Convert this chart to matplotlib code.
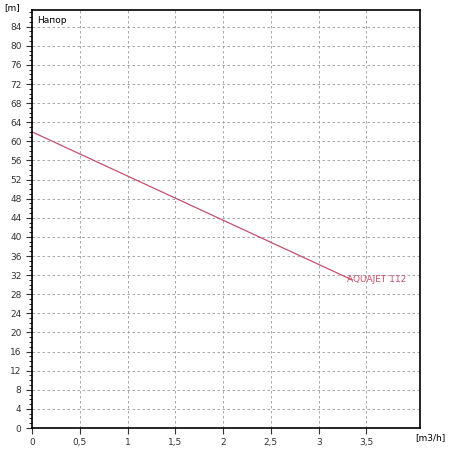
import matplotlib
matplotlib.use("Agg")
import matplotlib.pyplot as plt
from matplotlib.ticker import MultipleLocator

flow = [0, 3.35]
head = [62, 31]
label = "AQUAJET 112"
xticks = [0, 0.5, 1, 1.5, 2, 2.5, 3, 3.5]
xlabels = ["0", "0,5", "1", "1,5", "2", "2,5", "3", "3,5"]
yticks = list(range(0, 88, 4))

fig = plt.figure(figsize=(4.5, 4.5), dpi=100)
ax = fig.add_axes([32/450, 22/450, 388/450, 418/450])
ax.plot(flow, head, color="#c8506a", lw=0.9)
ax.text(flow[-1] - 0.05, head[-1], label, color="#c8506a", fontsize=6.5, va="center", ha="left")
ax.set_xlim(0, 4.06)
ax.set_ylim(0, 87.5)
ax.set_xticks(xticks)
ax.set_xticklabels(xlabels)
ax.set_yticks(yticks)
ax.yaxis.set_minor_locator(MultipleLocator(1))
ax.grid(True, which="major", ls=(0, (3, 3)), color="#999999", lw=0.6)
ax.tick_params(labelsize=6.5, length=4, width=0.8, colors="#333333")
ax.tick_params(which="minor", length=2)
for s in ax.spines.values():
    s.set_linewidth(1.2)
ax.text(0.012, 0.985, "Напор", transform=ax.transAxes, fontsize=6.5, va="top")
fig.text(4/450, 1-8/450, "[m]", fontsize=6.5, va="center")
fig.text(415/450, 1-438/450, "[m3/h]", fontsize=6.5, va="center")
fig.savefig("out.png", dpi=100)
